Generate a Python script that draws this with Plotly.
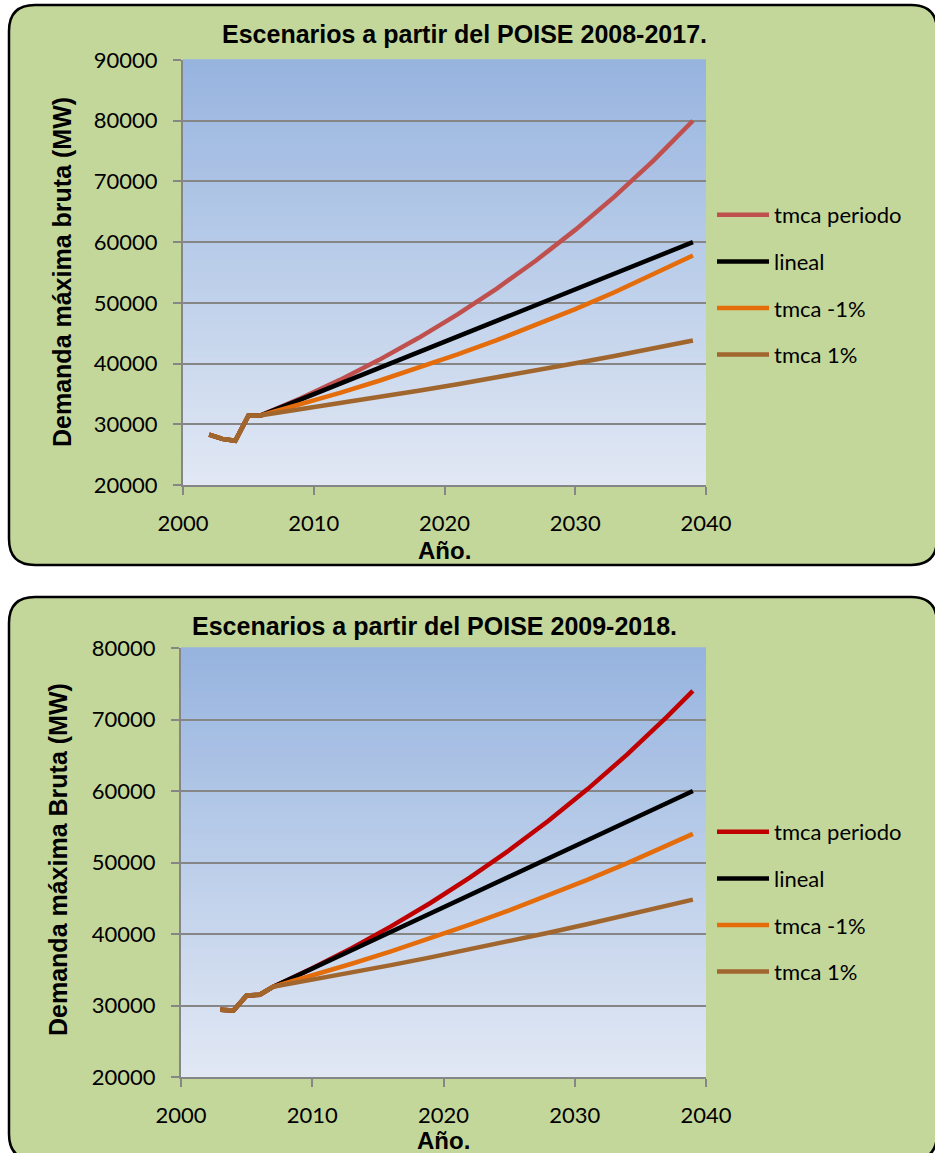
import plotly.graph_objects as go

W, H = 935, 1153

# ---------------- data ----------------
names = ["tmca periodo", "lineal", "tmca -1%", "tmca 1%"]

years1 = [2002, 2003, 2004, 2005, 2006, 2009, 2012, 2015, 2018, 2021, 2024, 2027, 2030, 2033, 2036, 2039]
hist1 = [28300, 27600, 27300, 31400]
periodo1 = hist1 + [31500, 34280, 37310, 40610, 44200, 48100, 52360, 56980, 62020, 67500, 73470, 80000]
lineal1 = hist1 + [31500, 34090, 36680, 39270, 41860, 44450, 47050, 49640, 52230, 54820, 57410, 60000]
menos1 = hist1 + [31500, 33290, 35170, 37170, 39270, 41500, 43850, 46340, 48970, 51740, 54670, 57800]
mas1 = hist1 + [31500, 32460, 33450, 34470, 35520, 36600, 37710, 38860, 40040, 41260, 42520, 43810]

years2 = [2003, 2004, 2005, 2006, 2007, 2010, 2013, 2016, 2019, 2022, 2025, 2028, 2031, 2034, 2037, 2039]
hist2 = [29400, 29300, 31400, 31500]
periodo2 = hist2 + [32600, 35200, 38020, 41060, 44340, 47880, 51710, 55840, 60300, 65120, 70330, 74000]
lineal2 = hist2 + [32600, 35170, 37740, 40310, 42880, 45440, 48010, 50580, 53150, 55720, 58290, 60000]
menos2 = hist2 + [32600, 34180, 35840, 37580, 39400, 41310, 43310, 45410, 47610, 49920, 52340, 54000]
mas2 = hist2 + [32600, 33590, 34610, 35650, 36730, 37840, 38990, 40170, 41390, 42640, 43930, 44810]

title1 = "Escenarios a partir del POISE 2008-2017."
title2 = "Escenarios a partir del POISE 2009-2018."
ytitle1 = "Demanda máxima bruta (MW)"
ytitle2 = "Demanda máxima Bruta (MW)"
xtitle = "Año."

colors1 = ["#C0504D", "#000000", "#E46C0A", "#A0662E"]
colors2 = ["#C00000", "#000000", "#E46C0A", "#A0662E"]

# ---------------- helpers (pixel -> paper) ----------------
def px(x):
    return x / W

def py(y):
    return 1 - y / H

TICKFONT = dict(family="Lato, 'Open Sans', sans-serif", size=22, color="black")
BOLD = dict(family="'Liberation Sans', Arial, sans-serif", size=25, color="black", weight="bold")
BOLDX = dict(BOLD, size=24)

fig = go.Figure()

series1 = [periodo1, lineal1, menos1, mas1]
series2 = [periodo2, lineal2, menos2, mas2]
for i, (nm, ys) in enumerate(zip(names, series1)):
    fig.add_trace(go.Scatter(x=years1, y=ys, name=nm, mode="lines",
                             line=dict(color=colors1[i], width=4.5),
                             xaxis="x", yaxis="y", legend="legend",
                             legendgroup="a" + str(i)))
for i, (nm, ys) in enumerate(zip(names, series2)):
    fig.add_trace(go.Scatter(x=years2, y=ys, name=nm, mode="lines",
                             line=dict(color=colors2[i], width=4.5),
                             xaxis="x2", yaxis="y2", legend="legend2",
                             legendgroup="b" + str(i)))

# ---------------- backgrounds ----------------
def rounded_box(x0, y0, x1, y1, r):
    X0, X1 = px(x0), px(x1)
    Y0, Y1 = py(y0), py(y1)
    rx, ry = r / W, r / H
    return (f"M {X0+rx},{Y0} L {X1-rx},{Y0} Q {X1},{Y0} {X1},{Y0-ry} "
            f"L {X1},{Y1+ry} Q {X1},{Y1} {X1-rx},{Y1} L {X0+rx},{Y1} "
            f"Q {X0},{Y1} {X0},{Y1+ry} L {X0},{Y0-ry} Q {X0},{Y0} {X0+rx},{Y0} Z")

shapes = []
for (b0, b1) in [(5, 565), (597, 1160)]:
    shapes.append(dict(type="path", xref="paper", yref="paper",
                       path=rounded_box(9, b0, 937, b1, 26),
                       fillcolor="#C4D79B", line=dict(color="black", width=2.5),
                       layer="below"))

top_c = (151, 180, 223)
bot_c = (225, 232, 244)
N = 60
for ax in ["", "2"]:
    for k in range(N):
        t = k / (N - 1)
        c = tuple(int(round(bot_c[j] + (top_c[j] - bot_c[j]) * t)) for j in range(3))
        shapes.append(dict(type="rect", xref=f"x{ax} domain", yref=f"y{ax} domain",
                           x0=0, x1=1, y0=k / N, y1=(k + 1) / N + 0.002,
                           fillcolor=f"rgb{c}", line=dict(width=0), layer="below"))

# ---------------- axes ----------------
def xax(domain, anchor):
    return dict(domain=domain, anchor=anchor, range=[2000, 2040], dtick=10, tickformat="d",
                showgrid=False, zeroline=False, showline=True, linecolor="#868686", linewidth=2,
                ticks="outside", ticklen=8, tickwidth=2, tickcolor="#868686",
                tickfont=TICKFONT, ticklabelstandoff=10, fixedrange=True, automargin=False)

def yax(domain, anchor, rng):
    return dict(domain=domain, anchor=anchor, range=rng, dtick=10000, tickformat="d",
                showgrid=True, gridcolor="#868686", gridwidth=2, zeroline=False,
                showline=True, linecolor="#868686", linewidth=2,
                ticks="outside", ticklen=8, tickwidth=2, tickcolor="#868686",
                tickfont=TICKFONT, ticklabelstandoff=11, fixedrange=True, automargin=False)

annotations = [
    dict(text=title1, x=px(464), y=py(34), xref="paper", yref="paper", showarrow=False,
         font=BOLD, xanchor="center", yanchor="middle"),
    dict(text=title2, x=px(434), y=py(626), xref="paper", yref="paper", showarrow=False,
         font=BOLD, xanchor="center", yanchor="middle"),
    dict(text=ytitle1, x=px(62), y=py(272), xref="paper", yref="paper", showarrow=False,
         font=BOLD, textangle=-90, xanchor="center", yanchor="middle"),
    dict(text=ytitle2, x=px(58), y=py(860), xref="paper", yref="paper", showarrow=False,
         font=BOLD, textangle=-90, xanchor="center", yanchor="middle"),
    dict(text=xtitle, x=px(444), y=py(550), xref="paper", yref="paper", showarrow=False,
         font=BOLDX, xanchor="center", yanchor="middle"),
    dict(text=xtitle, x=px(443), y=py(1140), xref="paper", yref="paper", showarrow=False,
         font=BOLDX, xanchor="center", yanchor="middle"),
]

legend_common = dict(font=TICKFONT, bgcolor="rgba(0,0,0,0)", borderwidth=0,
                     xanchor="left", yanchor="top", traceorder="grouped",
                     tracegroupgap=15, itemwidth=52, itemclick=False)

fig.update_layout(
    width=W, height=H, margin=dict(l=0, r=0, t=0, b=0, pad=0, autoexpand=False),
    paper_bgcolor="white", plot_bgcolor="rgba(0,0,0,0)",
    xaxis=xax([px(183), px(706)], "y"),
    yaxis=yax([py(485), py(60)], "x", [20000, 90000]),
    xaxis2=xax([px(181), px(706)], "y2"),
    yaxis2=yax([py(1077), py(648)], "x2", [20000, 80000]),
    legend=dict(x=px(712), y=py(194), **legend_common),
    legend2=dict(x=px(712), y=py(811), **legend_common),
    shapes=shapes, annotations=annotations, showlegend=True,
)

fig.write_html("out.html")
